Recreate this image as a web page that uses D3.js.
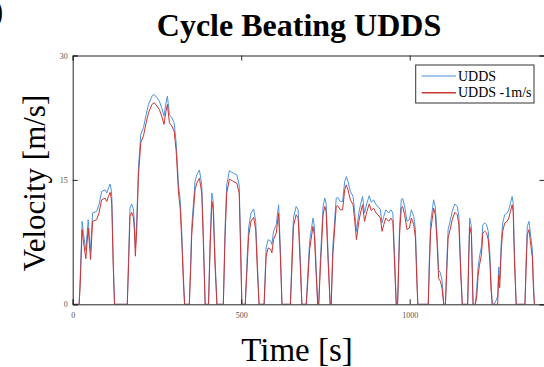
<!DOCTYPE html>
<html><head><meta charset="utf-8">
<script src="https://cdn.jsdelivr.net/npm/d3@7"></script>
<style>
html,body{margin:0;padding:0;background:#fff;overflow:hidden;}
svg{display:block;font-family:"Liberation Serif","Times New Roman",serif;}
</style></head>
<body>
<svg id="c" width="544" height="367"></svg>
<script>
// ---- data (time in s, velocity in m/s) ----
const time = [
 0,19,22,28,32,39,46,53,59,71,78,86,96,101,106,111,114,116,120,124,
 162,166,170,175,180,183,186,190,195,202,210,218,225,235,242,250,257,264,271,276,281,287,294,301,307,314,319,324,328,332,
 346,350,353,363,368,376,383,388,393,
 403,408,413,417,422,428,
 447,452,457,465,477,487,494,498,502,
 512,517,522,529,537,543,548,553,
 568,574,580,588,591,596,604,611,616,621,
 646,650,655,663,669,675,680,
 693,698,703,713,717,722,727,
 730,735,743,748,752,758,764,
 767,772,782,786,794,801,807,812,817,824,832,837,842,849,854,860,866,873,880,886,893,900,906,913,918,923,929,938,944,950,955,960,
 964,967,970,975,979,985,992,999,1005,1012,1017,1021,1024,
 1055,1058,1062,1071,1076,1081,1086,1091,1096,1101,
 1106,1110,1114,1121,1126,1134,1141,1146,1151,1156,
 1172,1175,1178,1183,1188,
 1195,1199,1203,1207,1213,1217,1223,1228,1233,1238,1241,1245,
 1250,1257,1261,1264,1267,1272,1276,1282,1289,1294,1299,1304,1307,1311,1316,
 1342,1346,1349,1354,1358,1364,1367,1370
];
const udds = [
 0,0,3,10.0,8.5,6.5,10.2,6.4,11.0,11.2,12.0,13.6,13.8,13.4,14.0,14.5,13.9,13.0,6,0,
 0,6,11.6,12.1,11.5,10,6.8,10,16.4,20.5,21.3,22.9,24.1,25.1,25.3,24.9,24.5,23.7,22.7,24.1,25.1,22.9,22.5,21.9,19.5,14.4,12.6,8.4,4,0,
 0,5,9.2,14.8,15.6,16.2,14.4,8,0,
 0,8,13.4,12.4,6,0,
 0,9,14.4,16.1,15.8,15.6,14.4,8,0,
 0,5,9.2,11.0,11.5,10.0,5,0,
 0,6.8,7.8,7.6,7.2,8.8,9.6,12.0,7,0,
 0,5,10.4,11.8,11.4,6,0,
 0,4,7.6,10.4,9.4,5,0,
 0,5.4,11.8,12.8,12.2,6,0,
 0,7.0,12.8,12.9,12.4,12.4,14.8,15.4,14.8,13.6,13.0,11.0,8.8,11.0,12.0,13.0,11.0,12.2,13.1,12.3,12.6,12.0,11.8,11.4,9.8,10.6,11.4,11.0,11.4,11.0,6,0,
 0,5,9.4,12.6,12.8,11.8,10.0,10.2,11.4,10.6,9.0,4,0,
 0,5,9.8,12.6,11.8,8.6,4.1,3.8,2.9,0,
 0,5,9.0,10.2,11.2,12.1,11.8,10.6,5,0,
 0,6,10.4,9.4,0,
 0,2,4.5,5.7,7.0,9.6,9.8,9.6,8.8,6.1,3,0,
 0,0.5,1,4.5,3,7.8,9.8,10.8,11.0,11.4,12.2,13.0,12.2,6,0,
 0,6,9.4,10.0,8.6,6.6,3,0
];
const uddsMinus1 = [
 0,0,2,9.0,7.5,5.5,9.2,5.4,10.0,10.2,11.0,12.6,12.8,12.4,13.0,13.5,12.9,12.0,5,0,
 0,5,10.6,11.1,10.5,9,5.8,9,15.4,19.5,20.3,21.9,23.1,24.1,24.3,23.9,23.5,22.7,21.7,23.1,24.1,21.9,21.5,20.9,18.5,13.4,11.6,7.4,3,0,
 0,4,8.2,13.8,14.6,15.2,13.4,7,0,
 0,7,12.4,11.4,5,0,
 0,8,13.4,15.1,14.8,14.6,13.4,7,0,
 0,4,8.2,10.0,10.5,9.0,4,0,
 0,5.8,6.8,6.6,6.2,7.8,8.6,11.0,6,0,
 0,4,9.4,10.8,10.4,5,0,
 0,3,6.6,9.4,8.4,4,0,
 0,4.4,10.8,11.8,11.2,5,0,
 0,6.0,11.8,11.9,11.4,11.4,13.8,14.4,13.8,12.6,12.0,10.0,7.8,10.0,11.0,12.0,10.0,11.2,12.1,11.3,11.6,11.0,10.8,10.4,8.8,9.6,10.4,10.0,10.4,10.0,5,0,
 0,4,8.4,11.6,11.8,10.8,9.0,9.2,10.4,9.6,8.0,3,0,
 0,4,8.8,11.6,10.8,7.6,3.1,2.8,1.9,0,
 0,4,8.0,9.2,10.2,11.1,10.8,9.6,4,0,
 0,5,9.4,8.4,0,
 0,1,3.5,4.7,6.0,8.6,8.8,8.6,7.8,5.1,2,0,
 0,0,0,3.5,2,6.8,8.8,9.8,10.0,10.4,11.2,12.0,11.2,5,0,
 0,5,8.4,9.0,7.6,5.6,2,0
];
const seriesNames = ["UDDS", "UDDS -1m/s"];
const xTicks = [0, 500, 1000];
const yTicks = [0, 15, 30];
const titleText = "Cycle Beating UDDS";
const xLabel = "Time [s]";
const yLabel = "Velocity [m/s]";

// ---- drawing ----
const svg = d3.select("#c");
const L = 72.7, R = 544.5, T = 55.5, B = 304.3;
const x = d3.scaleLinear().domain([0, 1400]).range([L, R]);
const y = d3.scaleLinear().domain([0, 30]).range([B, T]);
const colors = ["#4d94de", "#cc3434"];

svg.append("defs").append("clipPath").attr("id","clip")
  .append("rect").attr("x",L).attr("y",T).attr("width",R-L).attr("height",B-T);

const line = d3.line().x(d=>x(d[0])).y(d=>y(d[1]));
[udds, uddsMinus1].forEach((vals,i)=>{
  svg.append("path").datum(time.map((t,k)=>[t, vals[k]]))
    .attr("clip-path","url(#clip)")
    .attr("fill","none").attr("stroke",colors[i]).attr("stroke-width",1)
    .attr("stroke-linejoin","round").attr("d", line);
});

function styleAxis(g){
  g.select(".domain").attr("stroke","#262626").attr("stroke-width",1);
  g.selectAll(".tick line").attr("stroke","#262626");
  g.selectAll(".tick text").attr("fill","#555").attr("font-size","8px")
    .attr("font-family",'"Liberation Serif","Times New Roman",serif');
}
svg.append("g").attr("transform",`translate(0,${B})`)
  .call(d3.axisBottom(x).tickValues(xTicks).tickSize(-5).tickPadding(8).tickFormat(d3.format("d")))
  .call(styleAxis);
svg.append("g").attr("transform",`translate(0,${T})`)
  .call(d3.axisTop(x).tickValues(xTicks).tickSize(-5).tickFormat(""))
  .call(styleAxis);
svg.append("g").attr("transform",`translate(${L},0)`)
  .call(d3.axisLeft(y).tickValues(yTicks).tickSize(-5).tickPadding(5).tickFormat(d3.format("d")))
  .call(styleAxis);
svg.append("g").attr("transform",`translate(${R},0)`)
  .call(d3.axisRight(y).tickValues(yTicks).tickSize(-5).tickFormat(""))
  .call(styleAxis);
svg.selectAll("path.domain").attr("fill","none");

// title & labels
svg.append("text").attr("x",299).attr("y",36).attr("text-anchor","middle")
  .attr("font-size","32px").attr("font-weight","bold").attr("fill","#000").text(titleText);
svg.append("text").attr("x",297).attr("y",361).attr("text-anchor","middle")
  .attr("font-size","33px").attr("fill","#000").text(xLabel);
svg.append("text").attr("transform","translate(45,183) rotate(-90)").attr("text-anchor","middle")
  .attr("font-size","31px").attr("fill","#000").text(yLabel);
// cropped panel label fragment at top-left (cut off in the reference as well)
svg.append("text").attr("x",-8).attr("y",22).attr("font-size","34px").attr("font-weight","bold")
  .attr("fill","#000").text(")");

// legend
const lg = svg.append("g");
lg.append("rect").attr("x",415.7).attr("y",65).attr("width",118.3).attr("height",38)
  .attr("fill","#fff").attr("stroke","#333").attr("stroke-width",1);
seriesNames.forEach((n,i)=>{
  const yy = 76 + i*16.7;
  lg.append("line").attr("x1",421.7).attr("x2",456).attr("y1",yy).attr("y2",yy)
    .attr("stroke",colors[i]).attr("stroke-width", i ? 1.4 : 1);
  lg.append("text").attr("x",458).attr("y",yy+4.5).attr("font-size","14px").attr("fill","#000").text(n);
});
</script>
</body></html>
